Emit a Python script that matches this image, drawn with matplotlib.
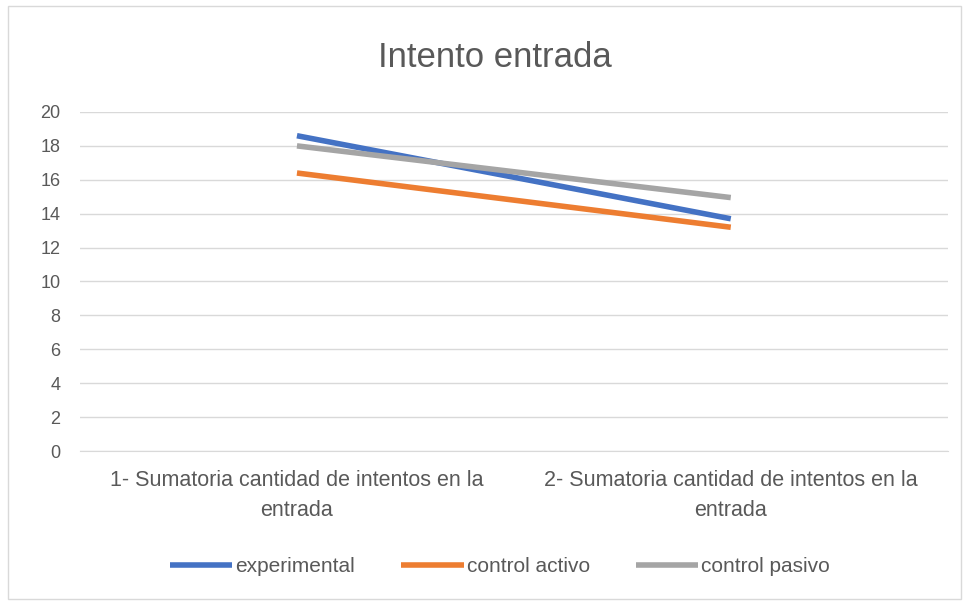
import numpy as np
import matplotlib.pyplot as plt
from matplotlib.patches import Rectangle

categories = ["1- Sumatoria cantidad de intentos en la\nentrada",
              "2- Sumatoria cantidad de intentos en la\nentrada"]
experimental = [18.6, 13.7]
control_activo = [16.4, 13.2]
control_pasivo = [18.0, 14.95]

series = [("experimental", experimental, "#4472C4"),
          ("control activo", control_activo, "#ED7D31"),
          ("control pasivo", control_pasivo, "#A5A5A5")]

plt.rcParams['font.family'] = ['Liberation Sans', 'DejaVu Sans']
txt = "#595959"

fig = plt.figure(figsize=(9.69, 6.04), dpi=100)
fig.patches.append(Rectangle((0.008, 0.008), 0.984, 0.982, transform=fig.transFigure,
                             fill=False, edgecolor="#d9d9d9", linewidth=1))
ax = fig.add_axes([0.0826, 0.2533, 0.8954, 0.5613])

x = np.arange(len(categories))
for name, vals, col in series:
    ax.plot(x, vals, color=col, linewidth=4, label=name, solid_capstyle='butt')

ax.set_xlim(-0.5, 1.5)
ax.set_ylim(0, 20)
ax.set_yticks(np.arange(0, 21, 2))
ax.set_xticks(x)
ax.set_xticklabels(categories, fontsize=15.5, color=txt, linespacing=1.55)
ax.tick_params(axis='y', labelsize=13, colors=txt, length=0, pad=14)
ax.tick_params(axis='x', length=0, pad=14)
ax.grid(axis='y', color="#d9d9d9", linewidth=1)
ax.set_axisbelow(True)
for s in ['top', 'right', 'left']:
    ax.spines[s].set_visible(False)
ax.spines['bottom'].set_color("#d9d9d9")

fig.text(0.511, 0.905, "Intento entrada", fontsize=25, color=txt, ha='center', va='center')

ax.legend(loc='center', bbox_to_anchor=(0.484, -0.342), ncol=3, frameon=False,
          fontsize=15, labelcolor=txt, handlelength=3.0, handletextpad=0.15,
          columnspacing=2.2)

fig.savefig("out.png", dpi=100)
